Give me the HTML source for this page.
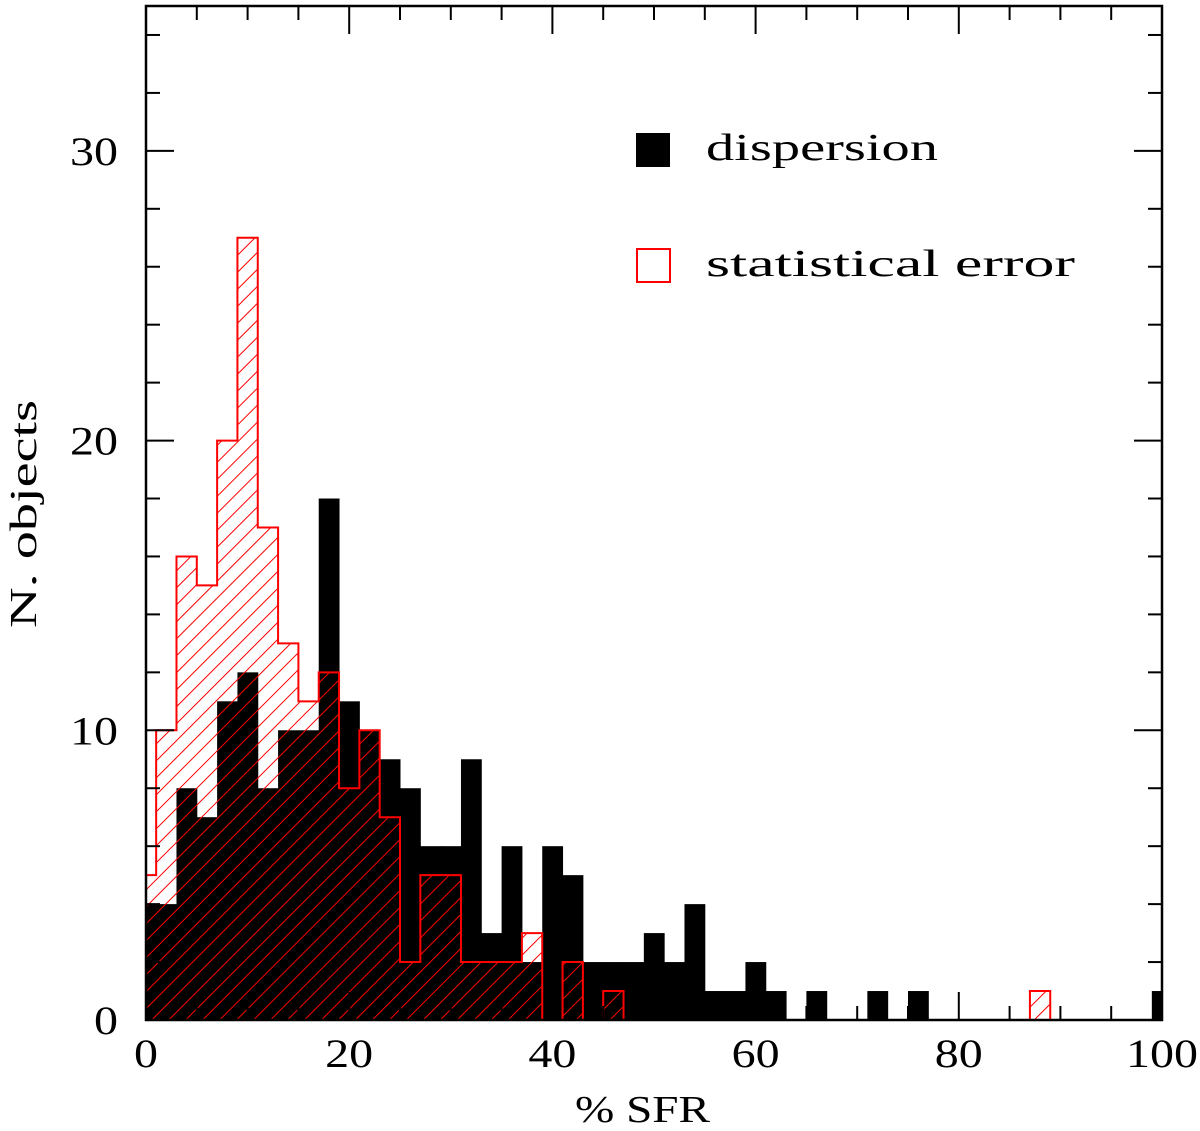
<!DOCTYPE html>
<html><head><meta charset="utf-8"><style>
html,body{margin:0;padding:0;background:#fff;}
svg{display:block;font-family:"Liberation Serif",serif;}
</style></head><body>
<svg id="chart" width="1200" height="1131" viewBox="0 0 1200 1131" xmlns="http://www.w3.org/2000/svg">
<defs>
<pattern id="hatch" patternUnits="userSpaceOnUse" width="12" height="12" patternTransform="rotate(45)">
<line x1="0" y1="0" x2="0" y2="12" stroke="#ff0000" stroke-width="2"/>
</pattern>
<clipPath id="plotclip"><rect x="146" y="6" width="1016" height="1014"/></clipPath>
</defs>
<g id="marks" clip-path="url(#plotclip)"></g>
<g id="axes"></g>
<g>
<rect x="636" y="133" width="34" height="34" fill="#000"/>
<text x="706" y="160" font-size="38" textLength="232" lengthAdjust="spacingAndGlyphs">dispersion</text>
<rect x="637" y="249" width="33" height="33" fill="none" stroke="#ff0000" stroke-width="2"/>
<text x="706" y="276" font-size="38" textLength="369" lengthAdjust="spacingAndGlyphs">statistical error</text>
</g>
<text x="575" y="1122" font-size="38" textLength="135" lengthAdjust="spacingAndGlyphs">% SFR</text>
<text transform="translate(36,628) rotate(-90)" font-size="38" textLength="228" lengthAdjust="spacingAndGlyphs">N. objects</text>
</svg>
<script>
const binCenters = [0,2,4,6,8,10,12,14,16,18,20,22,24,26,28,30,32,34,36,38,40,42,44,46,48,50,52,54,56,58,60,62,64,66,68,70,72,74,76,78,80,82,84,86,88,90,92,94,96,98,100];
const dispersionCounts = [4,4,8,7,11,12,8,10,10,18,11,10,9,8,6,6,9,3,6,2,6,5,2,2,2,3,2,4,1,1,2,1,0,1,0,0,1,0,1,0,0,0,0,0,0,0,0,0,0,0,1];
const statErrorCounts = [5,10,16,15,20,27,17,13,11,12,8,10,7,2,5,5,2,2,2,3,0,2,0,1,0,0,0,0,0,0,0,0,0,0,0,0,0,0,0,0,0,0,0,0,1,0,0,0,0,0,0];
const xTicks = [0,20,40,60,80,100];
const yTicks = [0,10,20,30];
const binWidth = 2;

const X0=146, X1=1162, Y0=1020, Ytop=6;
const xMin=0, xMax=100, yMin=0, yMax=35;
function sx(v){return X0+(v-xMin)/(xMax-xMin)*(X1-X0);}
function sy(v){return Y0-(v-yMin)/(yMax-yMin)*(Y0-Ytop);}
const NS="http://www.w3.org/2000/svg";
const marks=document.getElementById('marks');
const axes=document.getElementById('axes');

binCenters.forEach((c,i)=>{
  const v=dispersionCounts[i];
  if(v<=0) return;
  const r=document.createElementNS(NS,'rect');
  const xa=Math.max(sx(c-binWidth/2),X0), xb=Math.min(sx(c+binWidth/2),X1);
  r.setAttribute('x',xa); r.setAttribute('y',sy(v));
  r.setAttribute('width',xb-xa+0.5); r.setAttribute('height',sy(0)-sy(v));
  r.setAttribute('fill','#000');
  
  
  marks.appendChild(r);
});

let d='M'+sx(binCenters[0]-binWidth/2)+','+sy(0);
binCenters.forEach((c,i)=>{
  const v=statErrorCounts[i];
  d+=' L'+sx(c-binWidth/2)+','+sy(v)+' L'+sx(c+binWidth/2)+','+sy(v);
});
d+=' L'+sx(binCenters[binCenters.length-1]+binWidth/2)+','+sy(0)+' Z';
const p=document.createElementNS(NS,'path');
p.setAttribute('d',d);
p.setAttribute('fill','url(#hatch)');
p.setAttribute('stroke','#ff0000');
p.setAttribute('stroke-width','2');


marks.appendChild(p);

function line(x1,y1,x2,y2,w,name){
  const l=document.createElementNS(NS,'line');
  l.setAttribute('x1',x1);l.setAttribute('y1',y1);l.setAttribute('x2',x2);l.setAttribute('y2',y2);
  l.setAttribute('stroke','#000');l.setAttribute('stroke-width',w);
  
  
  axes.appendChild(l);
}
const frame=document.createElementNS(NS,'rect');
frame.setAttribute('x',X0);frame.setAttribute('y',Ytop);frame.setAttribute('width',X1-X0);frame.setAttribute('height',Y0-Ytop);
frame.setAttribute('fill','none');frame.setAttribute('stroke','#000');frame.setAttribute('stroke-width','2.5');


axes.appendChild(frame);

for(let v=xMin; v<=xMax; v+=5){
  const major = v%20===0, len = major?28:14, x=sx(v);
  line(x,Y0,x,Y0-len,2,'x-tick');
  line(x,Ytop,x,Ytop+len,2,'x-tick-top');
}
for(let v=yMin; v<=yMax; v+=2){
  const major = v%10===0, len = major?28:14, y=sy(v);
  line(X0,y,X0+len,y,2,'y-tick');
  line(X1,y,X1-len,y,2,'y-tick-right');
}
xTicks.forEach(v=>{
  const t=document.createElementNS(NS,'text');
  const n=String(v).length;
  t.setAttribute('x',sx(v));t.setAttribute('y',1067);t.setAttribute('text-anchor','middle');t.setAttribute('font-size','40');
  t.setAttribute('textLength',n*24);t.setAttribute('lengthAdjust','spacingAndGlyphs');
  
  
  t.textContent=v; axes.appendChild(t);
});
yTicks.forEach(v=>{
  const t=document.createElementNS(NS,'text');
  const n=String(v).length;
  t.setAttribute('x',118);t.setAttribute('y',sy(v)+14);t.setAttribute('text-anchor','end');t.setAttribute('font-size','40');
  t.setAttribute('textLength',n*24);t.setAttribute('lengthAdjust','spacingAndGlyphs');
  
  
  t.textContent=v; axes.appendChild(t);
});
</script>
</body></html>
